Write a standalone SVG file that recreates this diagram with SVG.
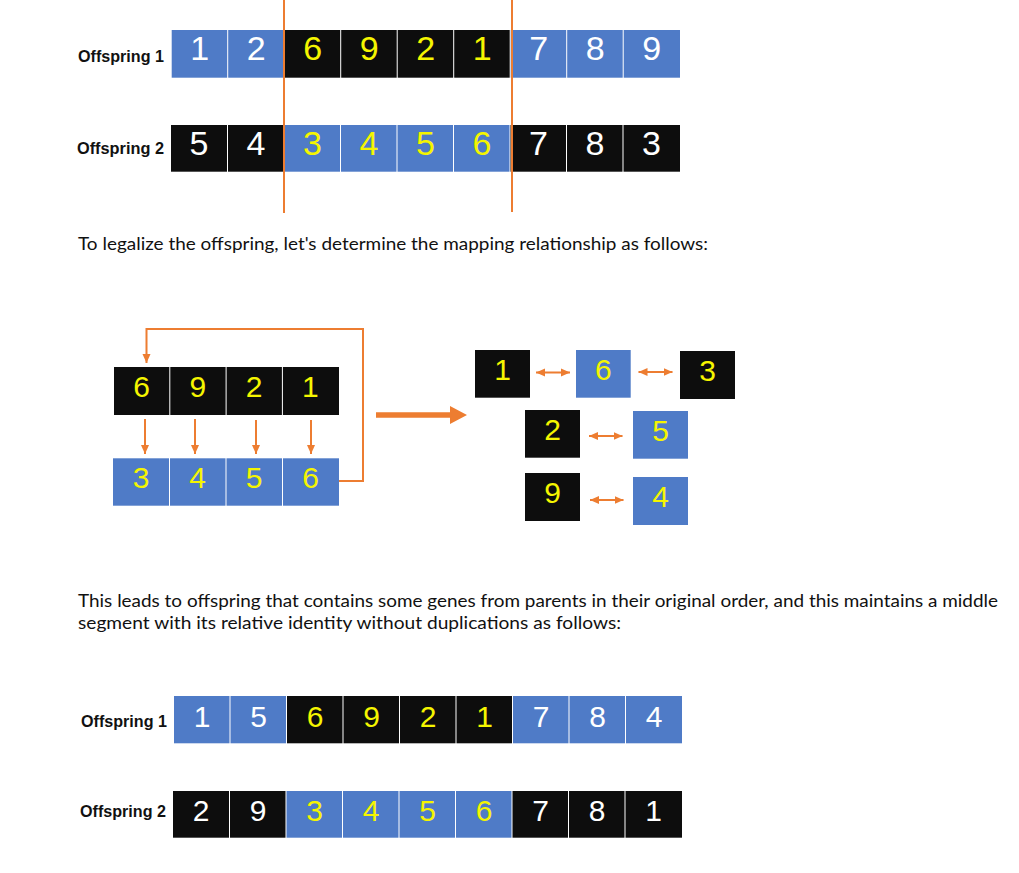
<svg xmlns="http://www.w3.org/2000/svg" width="1019" height="873" viewBox="0 0 1019 873">
<style>
.b{fill:#4F7BC7}
.k{fill:#0D0D0D}
.d{font-family:"Liberation Sans",Arial,sans-serif;text-anchor:middle;font-size:30px}
.big{font-size:34px}
.w{fill:#FFFFFF}
.y{fill:#F5F500}
.lab{font-family:"Liberation Sans",Arial,sans-serif;font-weight:bold;font-size:17px;fill:#111}
.para{font-family:Lato,"Liberation Sans",sans-serif;font-size:16.5px;fill:#111}
.conn{stroke:#ED7D31;stroke-width:2;fill:none}
</style>
<defs>
<marker id="ah" markerUnits="userSpaceOnUse" markerWidth="10" markerHeight="10" viewBox="0 0 10 10" refX="9" refY="5" orient="auto-start-reverse">
<path d="M0,1 L9,5 L0,9 Z" fill="#ED7D31"/>
</marker>
</defs>

<!-- Top section -->
<g id="top-labels">
<text class="lab" x="78" y="62" textLength="86" lengthAdjust="spacingAndGlyphs">Offspring 1</text>
<text class="lab" x="77" y="154" textLength="87" lengthAdjust="spacingAndGlyphs">Offspring 2</text>
</g>
<g id="top-row1">
<g id="t1c1"><rect class="b" x="171.7" y="30" width="55.5" height="47.7"/><text class="d big w" x="199.7" y="60">1</text></g>
<g id="t1c2"><rect class="b" x="228.2" y="30" width="55.5" height="47.7"/><text class="d big w" x="256.2" y="60">2</text></g>
<g id="t1c3"><rect class="k" x="284.7" y="30" width="55.5" height="47.7"/><text class="d big y" x="312.7" y="60">6</text></g>
<g id="t1c4"><rect class="k" x="341.2" y="30" width="55.5" height="47.7"/><text class="d big y" x="369.2" y="60">9</text></g>
<g id="t1c5"><rect class="k" x="397.7" y="30" width="55.5" height="47.7"/><text class="d big y" x="425.7" y="60">2</text></g>
<g id="t1c6"><rect class="k" x="454.2" y="30" width="55.5" height="47.7"/><text class="d big y" x="482.2" y="60">1</text></g>
<g id="t1c7"><rect class="b" x="510.7" y="30" width="55.5" height="47.7"/><text class="d big w" x="538.7" y="60">7</text></g>
<g id="t1c8"><rect class="b" x="567.2" y="30" width="55.5" height="47.7"/><text class="d big w" x="595.2" y="60">8</text></g>
<g id="t1c9"><rect class="b" x="623.7" y="30" width="56.3" height="47.7"/><text class="d big w" x="651.7" y="60">9</text></g>
</g>
<g id="top-row2">
<g id="t2c1"><rect class="k" x="171" y="125" width="56" height="46.7"/><text class="d big w" x="199" y="155">5</text></g>
<g id="t2c2"><rect class="k" x="228" y="125" width="55.5" height="46.7"/><text class="d big w" x="256" y="155">4</text></g>
<g id="t2c3"><rect class="b" x="284.5" y="125" width="55.5" height="46.7"/><text class="d big y" x="312.5" y="155">3</text></g>
<g id="t2c4"><rect class="b" x="341" y="125" width="55.5" height="46.7"/><text class="d big y" x="369" y="155">4</text></g>
<g id="t2c5"><rect class="b" x="397.5" y="125" width="55.5" height="46.7"/><text class="d big y" x="425.5" y="155">5</text></g>
<g id="t2c6"><rect class="b" x="454" y="125" width="55.5" height="46.7"/><text class="d big y" x="482" y="155">6</text></g>
<g id="t2c7"><rect class="k" x="510.5" y="125" width="55.5" height="46.7"/><text class="d big w" x="538.5" y="155">7</text></g>
<g id="t2c8"><rect class="k" x="567" y="125" width="55.5" height="46.7"/><text class="d big w" x="595" y="155">8</text></g>
<g id="t2c9"><rect class="k" x="623.5" y="125" width="56.5" height="46.7"/><text class="d big w" x="651.5" y="155">3</text></g>
</g>

<text class="para" x="78" y="250" textLength="630" lengthAdjust="spacingAndGlyphs">To legalize the offspring, let's determine the mapping relationship as follows:</text>

<!-- Middle left -->
<g id="mid-top">
<g id="m1c1"><rect class="k" x="114" y="367" width="55.3" height="48"/><text class="d y" x="141.5" y="397">6</text></g>
<g id="m1c2"><rect class="k" x="170.3" y="367" width="55.3" height="48"/><text class="d y" x="197.8" y="397">9</text></g>
<g id="m1c3"><rect class="k" x="226.6" y="367" width="55.3" height="48"/><text class="d y" x="254.1" y="397">2</text></g>
<g id="m1c4"><rect class="k" x="282.9" y="367" width="56.1" height="48"/><text class="d y" x="310.4" y="397">1</text></g>
</g>
<g id="mid-bottom">
<g id="m2c1"><rect class="b" x="113" y="458.3" width="56" height="47.4"/><text class="d y" x="141" y="488">3</text></g>
<g id="m2c2"><rect class="b" x="170" y="458.3" width="55.5" height="47.4"/><text class="d y" x="197.5" y="488">4</text></g>
<g id="m2c3"><rect class="b" x="226.5" y="458.3" width="55.5" height="47.4"/><text class="d y" x="254" y="488">5</text></g>
<g id="m2c4"><rect class="b" x="283" y="458.3" width="56" height="47.4"/><text class="d y" x="310.5" y="488">6</text></g>
</g>

<!-- Middle right mapping boxes -->
<g id="map-1"><rect class="k" x="475" y="350" width="55" height="47.7"/><text class="d y" x="502.5" y="380">1</text></g>
<g id="map-6"><rect class="b" x="576" y="350" width="54.7" height="47.7"/><text class="d y" x="603.3" y="380">6</text></g>
<g id="map-3"><rect class="k" x="680" y="351" width="55" height="48"/><text class="d y" x="707.5" y="381">3</text></g>
<g id="map-2"><rect class="k" x="525" y="410" width="55" height="47.7"/><text class="d y" x="552.5" y="440">2</text></g>
<g id="map-5"><rect class="b" x="633" y="411" width="55" height="47.7"/><text class="d y" x="660.5" y="441">5</text></g>
<g id="map-9"><rect class="k" x="525" y="473" width="55" height="48"/><text class="d y" x="552.5" y="503">9</text></g>
<g id="map-4"><rect class="b" x="633" y="477" width="55" height="48"/><text class="d y" x="660.5" y="507">4</text></g>

<text class="para" x="78" y="607" textLength="920" lengthAdjust="spacingAndGlyphs">This leads to offspring that contains some genes from parents in their original order, and this maintains a middle</text>
<text class="para" x="78" y="629" textLength="543" lengthAdjust="spacingAndGlyphs">segment with its relative identity without duplications as follows:</text>

<!-- Bottom section -->
<g id="bottom-labels">
<text class="lab" x="81" y="727" textLength="86" lengthAdjust="spacingAndGlyphs">Offspring 1</text>
<text class="lab" x="80" y="817" textLength="86" lengthAdjust="spacingAndGlyphs">Offspring 2</text>
</g>
<g id="bot-row1">
<g id="b1c1"><rect class="b" x="174" y="696" width="55.5" height="47.3"/><text class="d w" x="202" y="727">1</text></g>
<g id="b1c2"><rect class="b" x="230.5" y="696" width="55.5" height="47.3"/><text class="d w" x="258.5" y="727">5</text></g>
<g id="b1c3"><rect class="k" x="287" y="696" width="55.5" height="47.3"/><text class="d y" x="315" y="727">6</text></g>
<g id="b1c4"><rect class="k" x="343.5" y="696" width="55.5" height="47.3"/><text class="d y" x="371.5" y="727">9</text></g>
<g id="b1c5"><rect class="k" x="400" y="696" width="55.5" height="47.3"/><text class="d y" x="428" y="727">2</text></g>
<g id="b1c6"><rect class="k" x="456.5" y="696" width="55.5" height="47.3"/><text class="d y" x="484.5" y="727">1</text></g>
<g id="b1c7"><rect class="b" x="513" y="696" width="55.5" height="47.3"/><text class="d w" x="541" y="727">7</text></g>
<g id="b1c8"><rect class="b" x="569.5" y="696" width="55.5" height="47.3"/><text class="d w" x="597.5" y="727">8</text></g>
<g id="b1c9"><rect class="b" x="626" y="696" width="56" height="47.3"/><text class="d w" x="654" y="727">4</text></g>
</g>
<g id="bot-row2">
<g id="b2c1"><rect class="k" x="173" y="791" width="56" height="46.7"/><text class="d w" x="201" y="821">2</text></g>
<g id="b2c2"><rect class="k" x="230" y="791" width="55.5" height="46.7"/><text class="d w" x="258" y="821">9</text></g>
<g id="b2c3"><rect class="b" x="286.5" y="791" width="55.5" height="46.7"/><text class="d y" x="314.5" y="821">3</text></g>
<g id="b2c4"><rect class="b" x="343" y="791" width="55.5" height="46.7"/><text class="d y" x="371" y="821">4</text></g>
<g id="b2c5"><rect class="b" x="399.5" y="791" width="55.5" height="46.7"/><text class="d y" x="427.5" y="821">5</text></g>
<g id="b2c6"><rect class="b" x="456" y="791" width="55.5" height="46.7"/><text class="d y" x="484" y="821">6</text></g>
<g id="b2c7"><rect class="k" x="512.5" y="791" width="55.5" height="46.7"/><text class="d w" x="540.5" y="821">7</text></g>
<g id="b2c8"><rect class="k" x="569" y="791" width="55.5" height="46.7"/><text class="d w" x="597" y="821">8</text></g>
<g id="b2c9"><rect class="k" x="625.5" y="791" width="56.5" height="46.7"/><text class="d w" x="653.5" y="821">1</text></g>
</g>

<g id="connectors">
<line class="conn" x1="284" y1="0" x2="284" y2="213"/>
<line class="conn" x1="512" y1="0" x2="512" y2="212"/>
<line class="conn" x1="145" y1="419" x2="145" y2="454" marker-end="url(#ah)"/>
<line class="conn" x1="195" y1="419" x2="195" y2="454" marker-end="url(#ah)"/>
<line class="conn" x1="256" y1="420" x2="256" y2="454" marker-end="url(#ah)"/>
<line class="conn" x1="311" y1="420" x2="311" y2="454" marker-end="url(#ah)"/>
<polyline class="conn" points="339,481 363,481 363,329 146.5,329 146.5,363" marker-end="url(#ah)"/>
<path d="M376,412.3 L450,412.3 L450,406 L467,415 L450,424 L450,417.7 L376,417.7 Z" fill="#ED7D31"/>
<line class="conn" x1="536" y1="372.5" x2="570" y2="372.5" marker-start="url(#ah)" marker-end="url(#ah)"/>
<line class="conn" x1="638.5" y1="372" x2="672.5" y2="372" marker-start="url(#ah)" marker-end="url(#ah)"/>
<line class="conn" x1="589" y1="436" x2="622.5" y2="436" marker-start="url(#ah)" marker-end="url(#ah)"/>
<line class="conn" x1="590" y1="500" x2="623.5" y2="500" marker-start="url(#ah)" marker-end="url(#ah)"/>
</g>
</svg>
